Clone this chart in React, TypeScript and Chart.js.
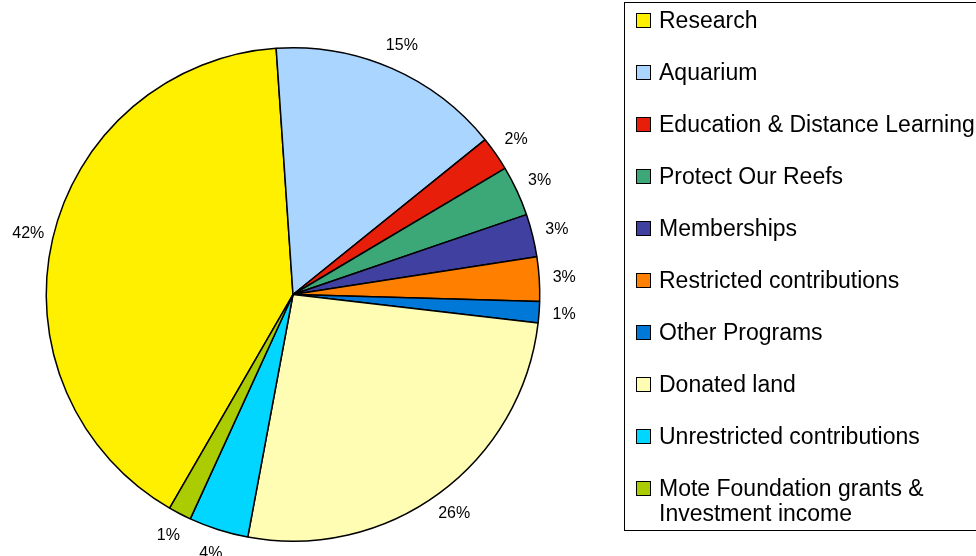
import React, { useEffect, useRef } from "react";
import { Chart, registerables } from "chart.js";

Chart.register(...registerables);

const categories = [
  "Research",
  "Aquarium",
  "Education & Distance Learning",
  "Protect Our Reefs",
  "Memberships",
  "Restricted contributions",
  "Other Programs",
  "Donated land",
  "Unrestricted contributions",
  "Mote Foundation grants & Investment income",
];
const legendLines = [
  ["Research"],
  ["Aquarium"],
  ["Education & Distance Learning"],
  ["Protect Our Reefs"],
  ["Memberships"],
  ["Restricted contributions"],
  ["Other Programs"],
  ["Donated land"],
  ["Unrestricted contributions"],
  ["Mote Foundation grants &", "Investment income"],
];
const values = [40.6, 15.3, 2.25, 3.3, 2.8, 2.9, 1.4, 26.1, 3.9, 1.5];
const percentLabels = ["42%", "15%", "2%", "3%", "3%", "3%", "1%", "26%", "4%", "1%"];
const colors = [
  "#FFF000",
  "#A9D5FF",
  "#E61E0A",
  "#3CA878",
  "#4040A0",
  "#FF8000",
  "#0078D7",
  "#FFFCB4",
  "#00D6FF",
  "#AACC00",
];

const FONT = "Arial, 'Liberation Sans', sans-serif";

const labelPlugin = {
  id: "pctLabels",
  afterDatasetsDraw(chart: any) {
    const ctx = chart.ctx;
    const meta = chart.getDatasetMeta(0);
    ctx.save();
    ctx.font = `16px ${FONT}`;
    ctx.fillStyle = "#000";
    ctx.textAlign = "center";
    ctx.textBaseline = "middle";
    meta.data.forEach((arc: any, i: number) => {
      const { x, y, startAngle, endAngle, outerRadius } = arc.getProps(
        ["x", "y", "startAngle", "endAngle", "outerRadius"],
        true
      );
      const mid = (startAngle + endAngle) / 2;
      const r = outerRadius + 25;
      ctx.fillText(percentLabels[i], x + Math.cos(mid) * r, y + Math.sin(mid) * r);
    });
    ctx.restore();
  },
};

const legendPlugin = {
  id: "boxLegend",
  afterDraw(chart: any) {
    const ctx = chart.ctx;
    ctx.save();
    ctx.strokeStyle = "#000";
    ctx.lineWidth = 1;
    ctx.strokeRect(624.5, 2.5, 400, 528);
    ctx.font = `23px ${FONT}`;
    ctx.textBaseline = "middle";
    ctx.textAlign = "left";
    legendLines.forEach((lines, i) => {
      const cy = 20.5 + 52 * i;
      ctx.fillStyle = colors[i];
      ctx.fillRect(636, cy - 7.5, 15, 15);
      ctx.strokeStyle = "#000";
      ctx.strokeRect(636.5, cy - 7, 14, 14);
      ctx.fillStyle = "#000";
      lines.forEach((t, j) => {
        ctx.fillText(t, 659, cy + 1 + j * 25);
      });
    });
    ctx.restore();
  },
};

export default function App() {
  const ref = useRef<HTMLCanvasElement | null>(null);
  useEffect(() => {
    document.body.style.margin = "0";
    const canvas = ref.current!;
    const chart = new Chart(canvas, {
      type: "pie",
      data: {
        labels: categories,
        datasets: [
          {
            data: values,
            backgroundColor: colors,
            borderColor: "#000",
            borderWidth: 1.5,
          },
        ],
      },
      options: {
        responsive: false,
        animation: false,
        rotation: 210,
        layout: { padding: { left: 45.5, top: 47, right: 435.5, bottom: 14 } },
        plugins: {
          legend: { display: false },
          tooltip: { enabled: false },
        },
      },
      plugins: [labelPlugin, legendPlugin],
    });
    return () => chart.destroy();
  }, []);
  return (
    <div style={{ width: 976, height: 556, background: "#fff" }}>
      <canvas ref={ref} width={976} height={556} style={{ display: "block" }} />
    </div>
  );
}
